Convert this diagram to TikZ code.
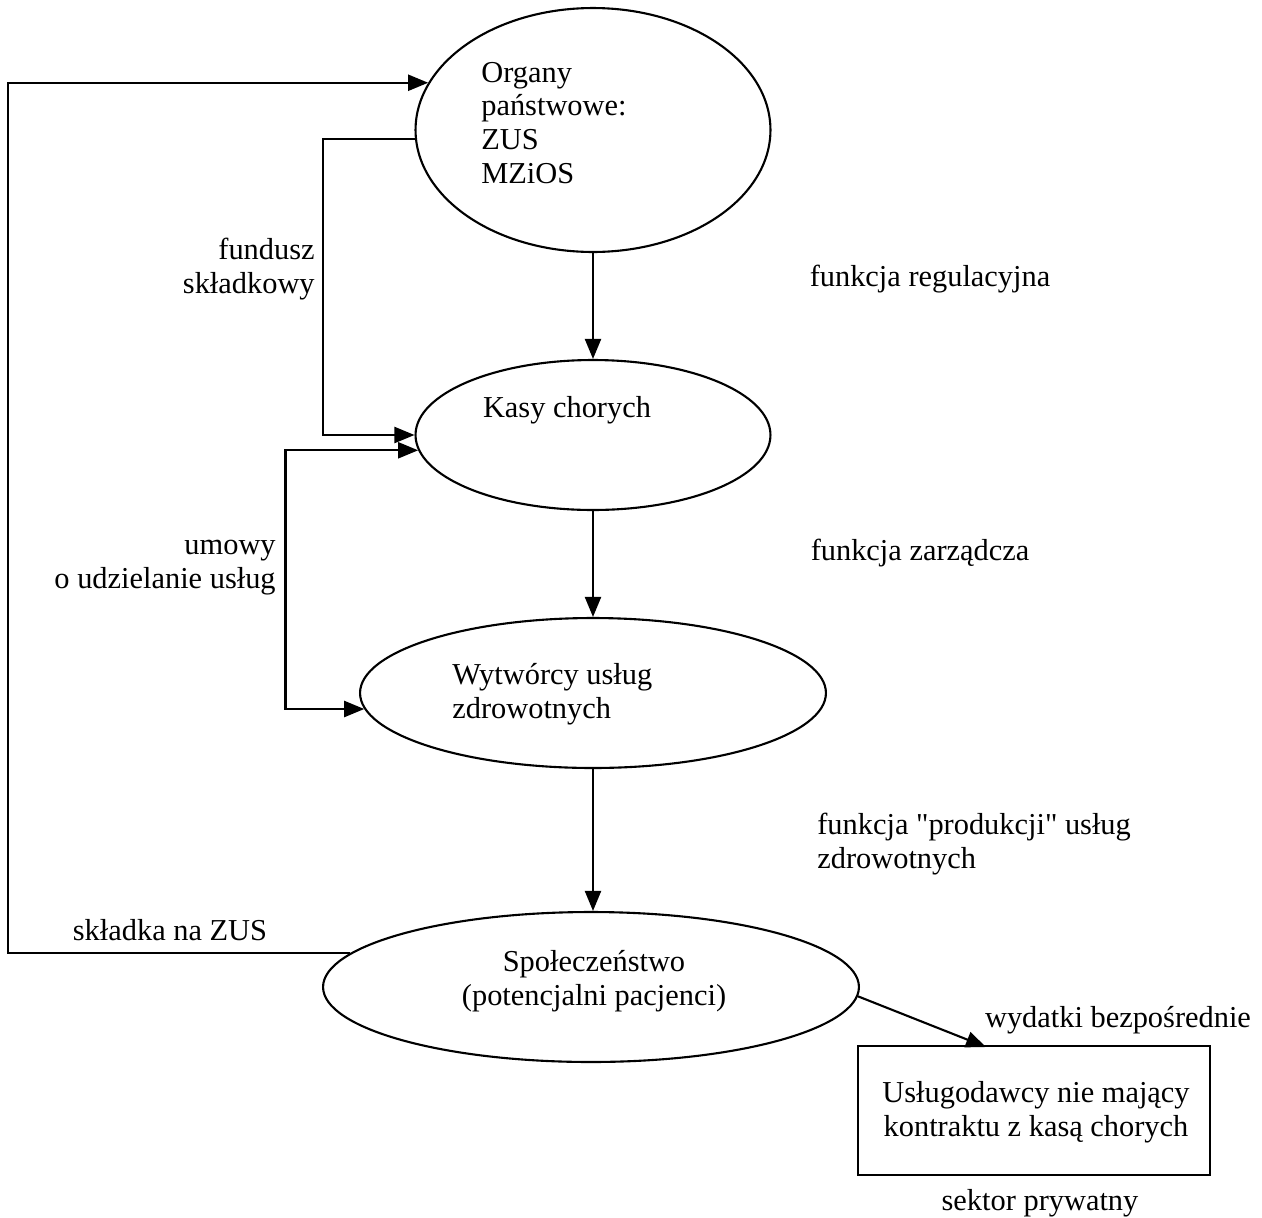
\documentclass[tikz,border=0pt]{standalone}
\usepackage{fontspec}
\setmainfont{Liberation Serif}[Ligatures=TeXOff]
\usetikzlibrary{shapes.geometric,arrows.meta}
\begin{document}
\begin{tikzpicture}[x=0.02cm,y=-0.02cm,
  lw/.style={line width=1.2pt},
  ell/.style={ellipse,draw,lw,inner sep=0pt},
  txt/.style={font=\fontsize{17.3}{19.3}\selectfont,inner sep=0pt},
  conn/.style={lw,-{Triangle[length=0.4cm,width=0.32cm]}},
  dconn/.style={lw,{Triangle[length=0.4cm,width=0.32cm]}-{Triangle[length=0.4cm,width=0.32cm]}}]
\useasboundingbox (0,0) rectangle (1262,1218);
% ellipses
\node[ell,minimum width=7.1cm,minimum height=4.88cm] (e1) at (593,130) {};
\node[ell,minimum width=7.1cm,minimum height=3.0cm] (e2) at (593,435) {};
\node[ell,minimum width=9.32cm,minimum height=3.0cm] (e3) at (593,693) {};
\node[ell,minimum width=10.72cm,minimum height=3.0cm] (e4) at (591,987) {};
\node[draw,lw,minimum width=7.04cm,minimum height=2.58cm,inner sep=0pt] (r) at (1034,1110.5) {};
% texts
\node[txt,align=left,anchor=west] (t1) at (481,123) {Organy\\państwowe:\\ZUS\\MZiOS};
\node[txt] (t2) at (567,410) {Kasy chorych};
\node[txt,align=left,anchor=west] (t3) at (452,694) {Wytwórcy usług\\zdrowotnych};
\node[txt,align=center] (t4) at (594,981) {Społeczeństwo\\(potencjalni pacjenci)};
\node[txt,align=center] (t5) at (1036,1112) {Usługodawcy nie mający\\kontraktu z kasą chorych};
\node[txt] (t6) at (1040,1203) {sektor prywatny};
\node[txt] (t7) at (1118,1020) {wydatki bezpośrednie};
\node[txt] (t8) at (930,279) {funkcja regulacyjna};
\node[txt] (t9) at (920,553) {funkcja zarządcza};
\node[txt,align=left,anchor=west] (t10) at (817,844) {funkcja "produkcji" usług\\zdrowotnych};
\node[txt,align=right,anchor=east] (t11) at (315,269) {fundusz\\składkowy};
\node[txt,align=right,anchor=east] (t12) at (276,568) {umowy\\o udzielanie usług};
\node[txt] (t13) at (170,930) {składka na ZUS};
% connectors
\draw[conn] (e1.south) -- (e2.north);
\draw[conn] (e2.south) -- (e3.north);
\draw[conn] (e3.south) -- (e3.south |- e4.north);
\coordinate (rt) at (986,1047);
\draw[conn] (e4.-2) -- (rt);
\draw[conn] (e4.172) -- ++(-342,0) |- (e1.164);
\draw[conn] (e1.183) -- ++(-92,0) |- (e2.west);
\draw[dconn] (e2.185.6) -- ++(-132.6,0) |- (e3.184.8);
\end{tikzpicture}
\end{document}
